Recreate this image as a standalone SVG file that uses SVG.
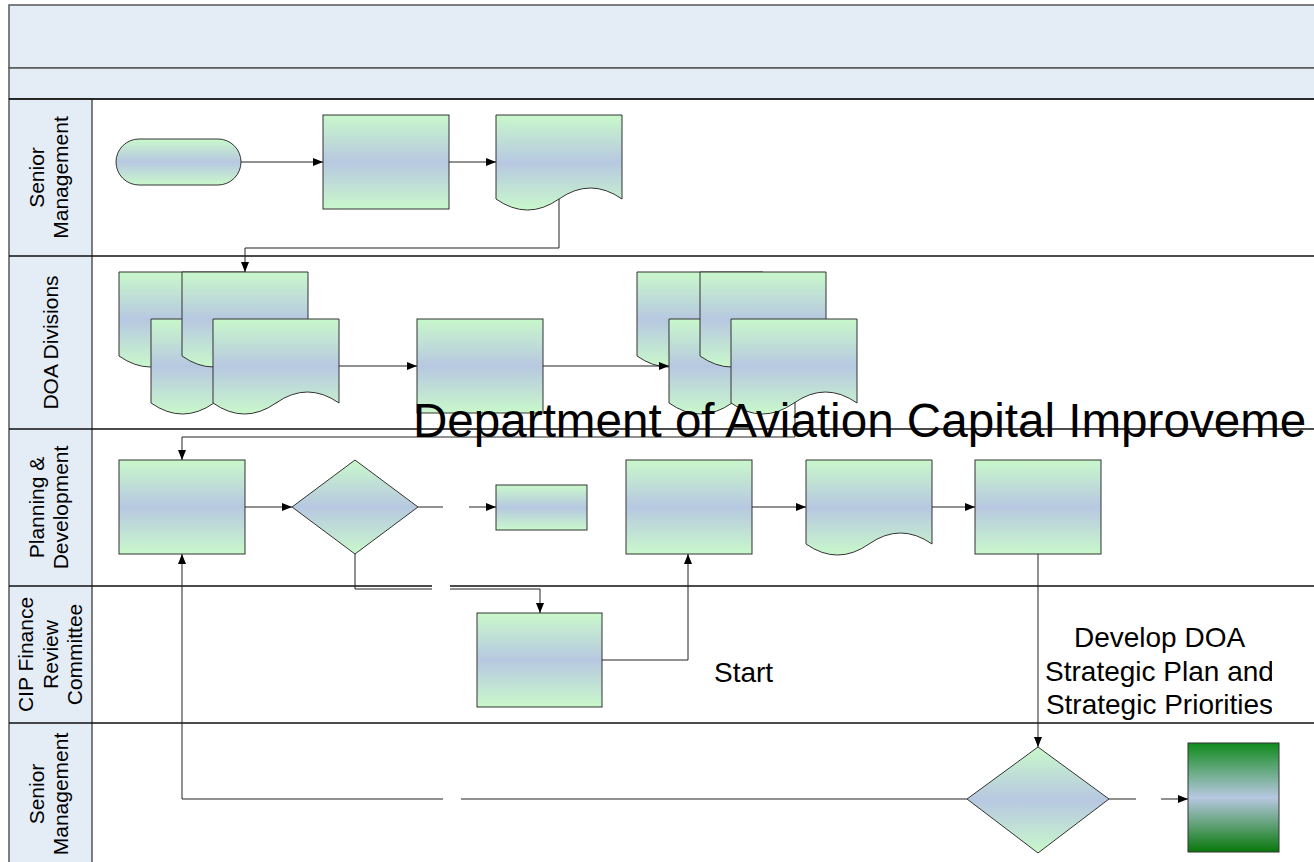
<svg xmlns="http://www.w3.org/2000/svg" width="1314" height="862" viewBox="0 0 1314 862">
<style>
.band{fill:#E4ECF6;stroke:#555;stroke-width:1.5}
.lane{stroke:#111;stroke-width:1.5;fill:none}
.shape{fill:url(#g1);stroke:#333;stroke-width:1}
.conn{fill:none;stroke:#222;stroke-width:1}
.arr{marker-end:url(#ah)}
.lbl{font-family:"Liberation Sans",Arial,sans-serif;font-size:21px;fill:#000;text-anchor:middle}
.big{font-family:"Liberation Sans",Arial,sans-serif;font-size:47.6px;fill:#000}
.txt{font-family:"Liberation Sans",Arial,sans-serif;font-size:28px;fill:#000}
</style>
<defs>
<linearGradient id="g1" x1="0" y1="0" x2="0" y2="1">
<stop offset="0" stop-color="#C9F8CB"/>
<stop offset="0.5" stop-color="#B7C8E1"/>
<stop offset="1" stop-color="#C9F8CB"/>
</linearGradient>
<linearGradient id="g2" x1="0" y1="0" x2="0" y2="1">
<stop offset="0" stop-color="#108A1C"/>
<stop offset="0.5" stop-color="#B7C8E1"/>
<stop offset="1" stop-color="#08780A"/>
</linearGradient>
<marker id="ah" markerUnits="userSpaceOnUse" markerWidth="10" markerHeight="8" refX="10" refY="4" orient="auto">
<path d="M0,0 L10,4 L0,8 z" fill="#000"/>
</marker>
<clipPath id="clipR"><rect x="0" y="0" width="1272" height="862"/></clipPath>
</defs>

<g id="pool">
<rect x="0" y="0" width="1314" height="862" fill="#fff"/>
<rect class="band" x="9" y="5" width="1320" height="63"/>
<rect class="band" x="9" y="68" width="1320" height="31"/>
<rect x="9" y="99" width="83" height="780" fill="#E4ECF6" stroke="#555" stroke-width="1.5"/>
<line class="lane" x1="9" y1="99" x2="1314" y2="99"/>
<line class="lane" x1="9" y1="256" x2="1314" y2="256"/>
<line class="lane" x1="9" y1="429" x2="1314" y2="429"/>
<line class="lane" x1="9" y1="586" x2="432" y2="586"/>
<line class="lane" x1="450" y1="586" x2="1314" y2="586"/>
<line class="lane" x1="9" y1="723" x2="1314" y2="723"/>
</g>

<g id="lane-labels">
<text class="lbl" transform="translate(50.5,177.5) rotate(-90)"><tspan x="0" y="-7">Senior</tspan><tspan x="0" y="17.5">Management</tspan></text>
<text class="lbl" transform="translate(50.5,342.5) rotate(-90)"><tspan x="0" y="7.5">DOA Divisions</tspan></text>
<text class="lbl" transform="translate(50.5,507.5) rotate(-90)"><tspan x="0" y="-7">Planning &amp;</tspan><tspan x="0" y="17.5">Development</tspan></text>
<text class="lbl" transform="translate(50.5,654.5) rotate(-90)"><tspan x="0" y="-17.5">CIP Finance</tspan><tspan x="0" y="7">Review</tspan><tspan x="0" y="31.5">Committee</tspan></text>
<text class="lbl" transform="translate(50.5,794) rotate(-90)"><tspan x="0" y="-7">Senior</tspan><tspan x="0" y="17.5">Management</tspan></text>
</g>

<g id="n-start"><rect class="shape" x="116" y="139" width="125" height="46" rx="23" ry="23"/></g>
<g id="n-sm-proc"><rect class="shape" x="323" y="115" width="126" height="94"/></g>
<g id="n-sm-doc"><path class="shape" d="M496,115 H622 V199 Q590.5,177 559,199 T496,199 Z"/></g>

<g id="n-doa-multidoc1">
<path class="shape" d="M119,272 H245 V356 Q213.5,334 182,356 T119,356 Z"/>
<path class="shape" d="M151,319 H277 V403 Q245.5,381 214,403 T151,403 Z"/>
<path class="shape" d="M182,272 H308 V356 Q276.5,334 245,356 T182,356 Z"/>
<path class="shape" d="M213,319 H339 V403 Q307.5,381 276,403 T213,403 Z"/>
</g>
<g id="n-doa-proc"><rect class="shape" x="417" y="319" width="126" height="94"/></g>
<g id="n-doa-multidoc2">
<path class="shape" d="M637,272 H763 V356 Q731.5,334 700,356 T637,356 Z"/>
<path class="shape" d="M669,319 H795 V403 Q763.5,381 732,403 T669,403 Z"/>
<path class="shape" d="M700,272 H826 V356 Q794.5,334 763,356 T700,356 Z"/>
<path class="shape" d="M731,319 H857 V403 Q825.5,381 794,403 T731,403 Z"/>
</g>

<g id="n-pd-proc1"><rect class="shape" x="119" y="460" width="126" height="94"/></g>
<g id="n-pd-dec"><path class="shape" d="M355,460 L418,507 L355,554 L292,507 Z"/></g>
<g id="n-pd-small"><rect class="shape" x="496" y="485" width="91" height="45"/></g>
<g id="n-pd-proc2"><rect class="shape" x="626" y="460" width="126" height="94"/></g>
<g id="n-pd-doc"><path class="shape" d="M806,460 H932 V544 Q900.5,522 869,544 T806,544 Z"/></g>
<g id="n-pd-proc3"><rect class="shape" x="975" y="460" width="126" height="94"/></g>

<g id="n-cip-proc"><rect class="shape" x="477" y="613" width="125" height="94"/></g>

<g id="n-sm2-dec"><path class="shape" d="M1038,747 L1109,799 L1038,853 L967,799 Z"/></g>
<g id="n-sm2-end"><rect x="1188" y="743" width="91" height="109" fill="url(#g2)" stroke="#333" stroke-width="1"/></g>

<g id="connectors">
<path class="conn arr" d="M241,162 H323"/>
<path class="conn arr" d="M449,162 H496"/>
<path class="conn arr" d="M559,199 V248 H245 V272"/>
<path class="conn arr" d="M339,366 H417"/>
<path class="conn arr" d="M543,366 H669"/>
<path class="conn arr" d="M795,403 V437 H182 V460"/>
<path class="conn arr" d="M245,507 H292"/>
<path class="conn" d="M418,507 H443"/>
<path class="conn arr" d="M469,507 H496"/>
<path class="conn" d="M355,554 V589 H432"/>
<path class="conn arr" d="M450,589 H540 V613"/>
<path class="conn arr" d="M602,660 H688 V554"/>
<path class="conn arr" d="M752,507 H806"/>
<path class="conn arr" d="M932,507 H975"/>
<path class="conn arr" d="M1038,554 V747"/>
<path class="conn" d="M967,799 H461"/>
<path class="conn arr" d="M443,799 H182 V554"/>
<path class="conn" d="M1109,799 H1136"/>
<path class="conn arr" d="M1161,799 H1188"/>
</g>

<g id="texts">
<text class="big" x="413" y="437">Department of Aviation Capital Improveme</text>
<text class="txt" x="714" y="682">Start</text>
<g clip-path="url(#clipR)">
<text class="txt" text-anchor="middle"><tspan x="1159.5" y="647">Develop DOA</tspan><tspan x="1159.5" y="681">Strategic Plan and</tspan><tspan x="1159.5" y="714">Strategic Priorities</tspan></text>
</g>
</g>
</svg>
